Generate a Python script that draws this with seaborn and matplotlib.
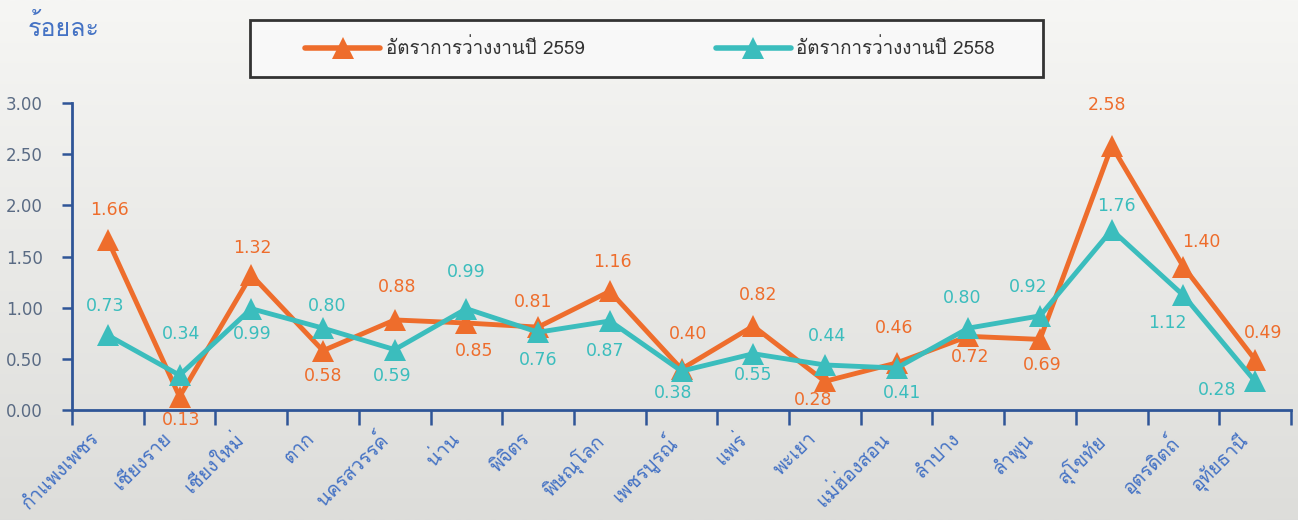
import numpy as np
import pandas as pd
import matplotlib
matplotlib.use('Agg')
import matplotlib.pyplot as plt
import seaborn as sns
from matplotlib import font_manager
from matplotlib.ft2font import FT2Font
from matplotlib.patches import Rectangle

# ข้อมูล
provinces = ['กำแพงเพชร', 'เชียงราย', 'เชียงใหม่', 'ตาก', 'นครสวรรค์', 'น่าน', 'พิจิตร',
             'พิษณุโลก', 'เพชรบูรณ์', 'แพร่', 'พะเยา', 'แม่ฮ่องสอน', 'ลำปาง', 'ลำพูน',
             'สุโขทัย', 'อุตรดิตถ์', 'อุทัยธานี']
rate_2559 = [1.66, 0.13, 1.32, 0.58, 0.88, 0.85, 0.81, 1.16, 0.40, 0.82, 0.28, 0.46,
             0.72, 0.69, 2.58, 1.40, 0.49]
rate_2558 = [0.73, 0.34, 0.99, 0.80, 0.59, 0.99, 0.76, 0.87, 0.38, 0.55, 0.44, 0.41,
             0.80, 0.92, 1.76, 1.12, 0.28]
series_names = ['อัตราการว่างงานปี 2559', 'อัตราการว่างงานปี 2558']
y_ticks = [0.0, 0.5, 1.0, 1.5, 2.0, 2.5, 3.0]

# ตำแหน่งป้ายตัวเลข (pixel offset จากจุด)
off_2559 = [(2, 30), (2, -23), (1, 27), (0, -25), (2, 33), (8, -28), (-5, 25), (3, 29),
            (7, 35), (5, 31), (-12, -19), (-2, 35), (2, -21), (2, -26), (-5, 41),
            (18, 25), (8, 27)]
off_2558 = [(-3, 29), (2, 41), (1, -25), (4, 22), (-2, -26), (0, 37), (0, -28), (-5, -30),
            (-8, -22), (0, -21), (2, 29), (5, -25), (-6, 30), (-12, 29), (5, 24),
            (-16, -28), (-38, -9)]

orange = '#EE6D2C'
teal = '#3BBDBD'
axis_blue = '#2F5597'
label_blue = '#4472C4'


def thai_font():
    for f in font_manager.fontManager.ttflist:
        try:
            if ord('ก') in FT2Font(f.fname).get_charmap():
                return f.name
        except Exception:
            pass
    return 'DejaVu Sans'


sns.set_style('white')
thai = thai_font()
plt.rcParams['font.family'] = [thai, 'DejaVu Sans']
num_font = ['DejaVu Sans']

df = pd.DataFrame({
    'pos': list(range(len(provinces))) * 2,
    'value': rate_2559 + rate_2558,
    'series': [series_names[0]] * len(provinces) + [series_names[1]] * len(provinces),
})

W, H = 1298, 520
fig = plt.figure(figsize=(W / 100, H / 100), dpi=100)

# พื้นหลังแบบไล่สี
bg = fig.add_axes([0, 0, 1, 1], zorder=-10)
grad = np.linspace(0, 1, 256).reshape(-1, 1)
bg.imshow(grad, aspect='auto', extent=[0, 1, 0, 1],
          cmap=matplotlib.colors.LinearSegmentedColormap.from_list('bg', ['#F6F6F4', '#DDDDDA']))
bg.axis('off')

ax = fig.add_axes([72 / W, 110 / H, 1219 / W, 307 / H])
ax.patch.set_alpha(0)

sns.lineplot(data=df, x='pos', y='value', hue='series', style='series',
             hue_order=series_names, style_order=series_names,
             palette=[orange, teal], markers=['^', '^'], dashes=False,
             markersize=16, linewidth=3.5, markeredgewidth=0, ax=ax)

handles, labels = ax.get_legend_handles_labels()
ax.get_legend().remove()

for vals, offs, col in [(rate_2559, off_2559, orange), (rate_2558, off_2558, teal)]:
    for i, (v, (dx, dy)) in enumerate(zip(vals, offs)):
        ax.annotate(f'{v:.2f}', (i, v), xytext=(dx, dy), textcoords='offset pixels',
                    ha='center', va='center', fontsize=12.5, color=col, family=num_font)

ax.set_xlim(-0.5, len(provinces) - 0.5)
ax.set_ylim(0, 3)
ax.set_xlabel('')
ax.set_ylabel('')

ax.set_yticks(y_ticks)
ax.set_yticklabels([f'{t:.2f}' for t in y_ticks], family=num_font)
ax.tick_params(axis='y', direction='out', length=7, width=1.8, color=axis_blue,
               labelsize=12, labelcolor='#5A6B84', pad=14, left=True)

ax.set_xticks(np.arange(-0.5, len(provinces)), minor=True)
ax.set_xticks(np.arange(len(provinces)) - 0.24)
ax.set_xticklabels(provinces, rotation=45, ha='right', rotation_mode='anchor',
                   fontsize=14, color=label_blue)
ax.tick_params(axis='x', which='major', length=0, pad=14)
ax.tick_params(axis='x', which='minor', direction='out', length=11, width=1.8,
               color=axis_blue, bottom=True)

for s in ['top', 'right']:
    ax.spines[s].set_visible(False)
for s in ['left', 'bottom']:
    ax.spines[s].set_color(axis_blue)
    ax.spines[s].set_linewidth(2)

fig.text(28 / W, 1 - 27 / H, 'ร้อยละ', fontsize=18, color=label_blue,
         ha='left', va='center')

# กรอบคำอธิบาย
fig.patches.append(Rectangle((250 / W, 1 - 77 / H), 793 / W, 57 / H,
                             transform=fig.transFigure, facecolor='#F8F8F8',
                             edgecolor='#333333', linewidth=2, zorder=1))
for h in handles:
    h.set_markersize(16)
    h.set_linewidth(4)
    h.set_markeredgewidth(0)
leg = fig.legend(handles, labels, loc='center', ncol=2,
                 bbox_to_anchor=(650 / W, 1 - 48.5 / H), fontsize=13.5,
                 handlelength=4, handletextpad=0.3, columnspacing=7,
                 frameon=False)
leg.set_zorder(2)
for t in leg.get_texts():
    t.set_color('#333333')

fig.savefig('out.png', dpi=100)
